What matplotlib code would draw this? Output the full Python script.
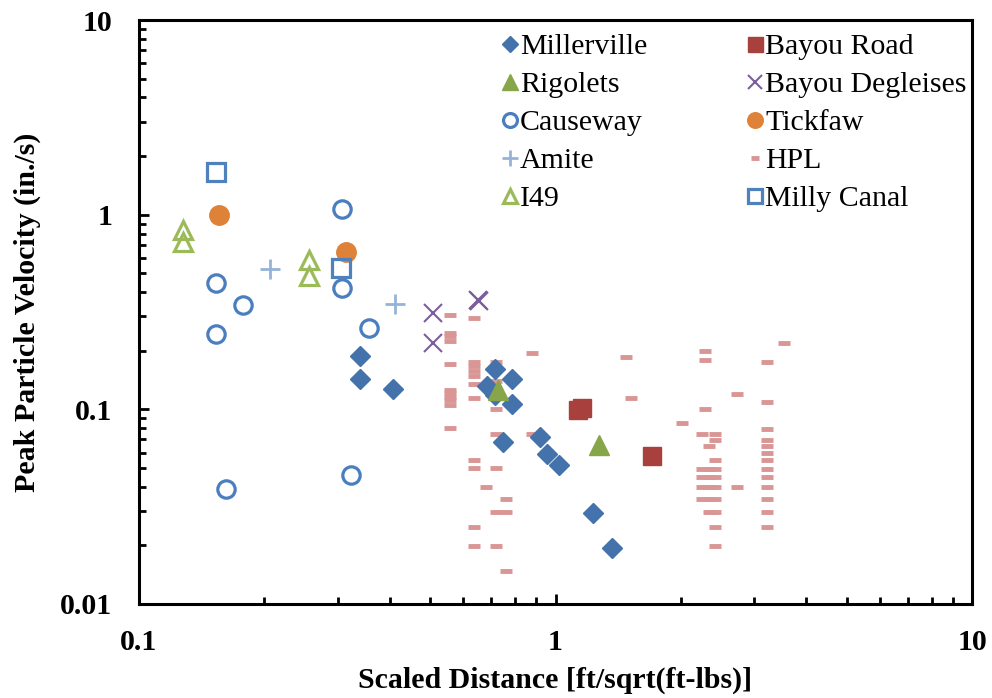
import numpy as np
import matplotlib.pyplot as plt

plt.rcParams['font.family'] = ['Liberation Serif', 'DejaVu Serif']

# Datos (distancia escalada, velocidad pico)
millerville_x = [0.339, 0.339, 0.407, 0.716, 0.786, 0.685, 0.716, 0.786, 0.748, 0.918, 0.954, 1.02, 1.23, 1.37]
millerville_y = [0.188, 0.143, 0.127, 0.161, 0.143, 0.132, 0.119, 0.107, 0.068, 0.072, 0.059, 0.052, 0.0294, 0.0194]

bayou_road_x = [1.13, 1.16, 1.70]
bayou_road_y = [0.099, 0.101, 0.0576]

rigolets_x = [0.727, 1.27]
rigolets_y = [0.126, 0.0656]

degleises_x = [0.508, 0.508, 0.652, 0.655]
degleises_y = [0.313, 0.219, 0.365, 0.362]

causeway_x = [0.307, 0.153, 0.178, 0.153, 0.307, 0.357, 0.162, 0.323]
causeway_y = [1.07, 0.446, 0.344, 0.244, 0.42, 0.262, 0.039, 0.046]

tickfaw_x = [0.156, 0.314]
tickfaw_y = [1.0, 0.643]

amite_x = [0.206, 0.412]
amite_y = [0.526, 0.348]

hpl_x = [0.558] * 11 + [0.637] * 11 + [0.72] * 8 + [0.68, 0.759, 0.759, 0.759, 0.88, 0.88, 1.48, 1.52, 2.01] \
    + [2.29, 2.29, 2.29, 2.25, 2.41, 2.41, 2.33, 2.41] \
    + [2.25, 2.33, 2.41, 2.25, 2.33, 2.41, 2.25, 2.33, 2.41, 2.25, 2.33, 2.41, 2.33, 2.41, 2.41, 2.41] \
    + [2.73, 2.73] + [3.21] * 13 + [3.54]
hpl_y = [0.305, 0.248, 0.238, 0.2245, 0.1705, 0.1258, 0.121, 0.116, 0.1117, 0.1053, 0.08] \
    + [0.296, 0.176, 0.167, 0.157, 0.148, 0.1345, 0.115, 0.055, 0.0498, 0.0248, 0.0199] \
    + [0.1746, 0.14, 0.115, 0.1, 0.0748, 0.0498, 0.0298, 0.0199] \
    + [0.0398, 0.0348, 0.0298, 0.0148, 0.1955, 0.0748, 0.185, 0.115, 0.0848] \
    + [0.2, 0.18, 0.1, 0.0748, 0.0748, 0.0697, 0.0649, 0.0548] \
    + [0.0496, 0.0496, 0.0496, 0.0448, 0.0448, 0.0448, 0.0398, 0.0398, 0.0398, 0.0347, 0.0347, 0.0347, 0.0297, 0.0297, 0.0248, 0.0198] \
    + [0.12, 0.0398] \
    + [0.1746, 0.1095, 0.0796, 0.0697, 0.0646, 0.0597, 0.0548, 0.0496, 0.0448, 0.0398, 0.0347, 0.0297, 0.0248] + [0.22]

i49_x = [0.1275, 0.1275, 0.256, 0.256]
i49_y = [0.834, 0.724, 0.585, 0.484]

milly_x = [0.153, 0.305]
milly_y = [1.66, 0.532]

fs = 21.5

fig = plt.figure(figsize=(9.92, 6.98), dpi=100)
ax = fig.add_axes([0.140, 0.1347, 0.840, 0.8366])

# HPL primero para que quede detras
h_hpl, = ax.plot(hpl_x, hpl_y, ls='none', marker='_', ms=8, mew=3.5, color='#D99694', label='HPL')
h_mil, = ax.plot(millerville_x, millerville_y, ls='none', marker='D', ms=10, color='#4472AA', label='Millerville')
h_br, = ax.plot(bayou_road_x, bayou_road_y, ls='none', marker='s', ms=13.5, color='#A8403D', label='Bayou Road')
h_rig, = ax.plot(rigolets_x, rigolets_y, ls='none', marker='^', ms=14, color='#87A64A', label='Rigolets')
h_deg, = ax.plot(degleises_x, degleises_y, ls='none', marker='x', ms=13, mew=1.5, color='#7B5E9D', label='Bayou Degleises')
h_cau, = ax.plot(causeway_x, causeway_y, ls='none', marker='o', ms=12.5, mew=2.3, mfc='none', color='#4A7EBF', label='Causeway')
h_tic, = ax.plot(tickfaw_x, tickfaw_y, ls='none', marker='o', ms=14, color='#DD8238', label='Tickfaw')
h_ami, = ax.plot(amite_x, amite_y, ls='none', marker='+', ms=14, mew=2, color='#95B3D7', label='Amite')
h_i49, = ax.plot(i49_x, i49_y, ls='none', marker='^', ms=12.5, mew=2.3, mfc='none', color='#9BBB59', label='I49')
h_mc, = ax.plot(milly_x, milly_y, ls='none', marker='s', ms=12.5, mew=2.3, mfc='none', color='#4F81BD', label='Milly Canal')

ax.set_xscale('log')
ax.set_yscale('log')
ax.set_xlim(0.1, 10)
ax.set_ylim(0.01, 10)

ax.set_xticks([0.1, 1, 10])
ax.set_xticklabels(['0.1', '1', '10'])
ax.set_yticks([0.01, 0.1, 1, 10])
ax.set_yticklabels(['0.01', '0.1', '1', '10'])
ax.tick_params(which='major', direction='in', length=7, width=2, labelsize=fs)
ax.tick_params(which='minor', direction='in', length=5, width=2)
ax.tick_params(axis='x', pad=18)
ax.tick_params(axis='y', pad=19)
for lab in ax.get_xticklabels() + ax.get_yticklabels():
    lab.set_fontweight('bold')
for s in ax.spines.values():
    s.set_linewidth(2.2)

ax.set_xlabel('Scaled Distance [ft/sqrt(ft-lbs)]', fontsize=fs, fontweight='bold', labelpad=8)
ax.set_ylabel('Peak Particle Velocity (in./s)', fontsize=fs, fontweight='bold', labelpad=14)

handles = [h_mil, h_rig, h_cau, h_ami, h_i49, h_br, h_deg, h_tic, h_hpl, h_mc]
ax.legend(handles=handles, ncol=2, loc='upper left', bbox_to_anchor=(0.418, 1.0), frameon=False,
          fontsize=fs, markerscale=0.8, handlelength=0.6, handletextpad=0.05,
          labelspacing=0.37, columnspacing=3.3, borderaxespad=0.05)

plt.savefig('out.png', dpi=100)
